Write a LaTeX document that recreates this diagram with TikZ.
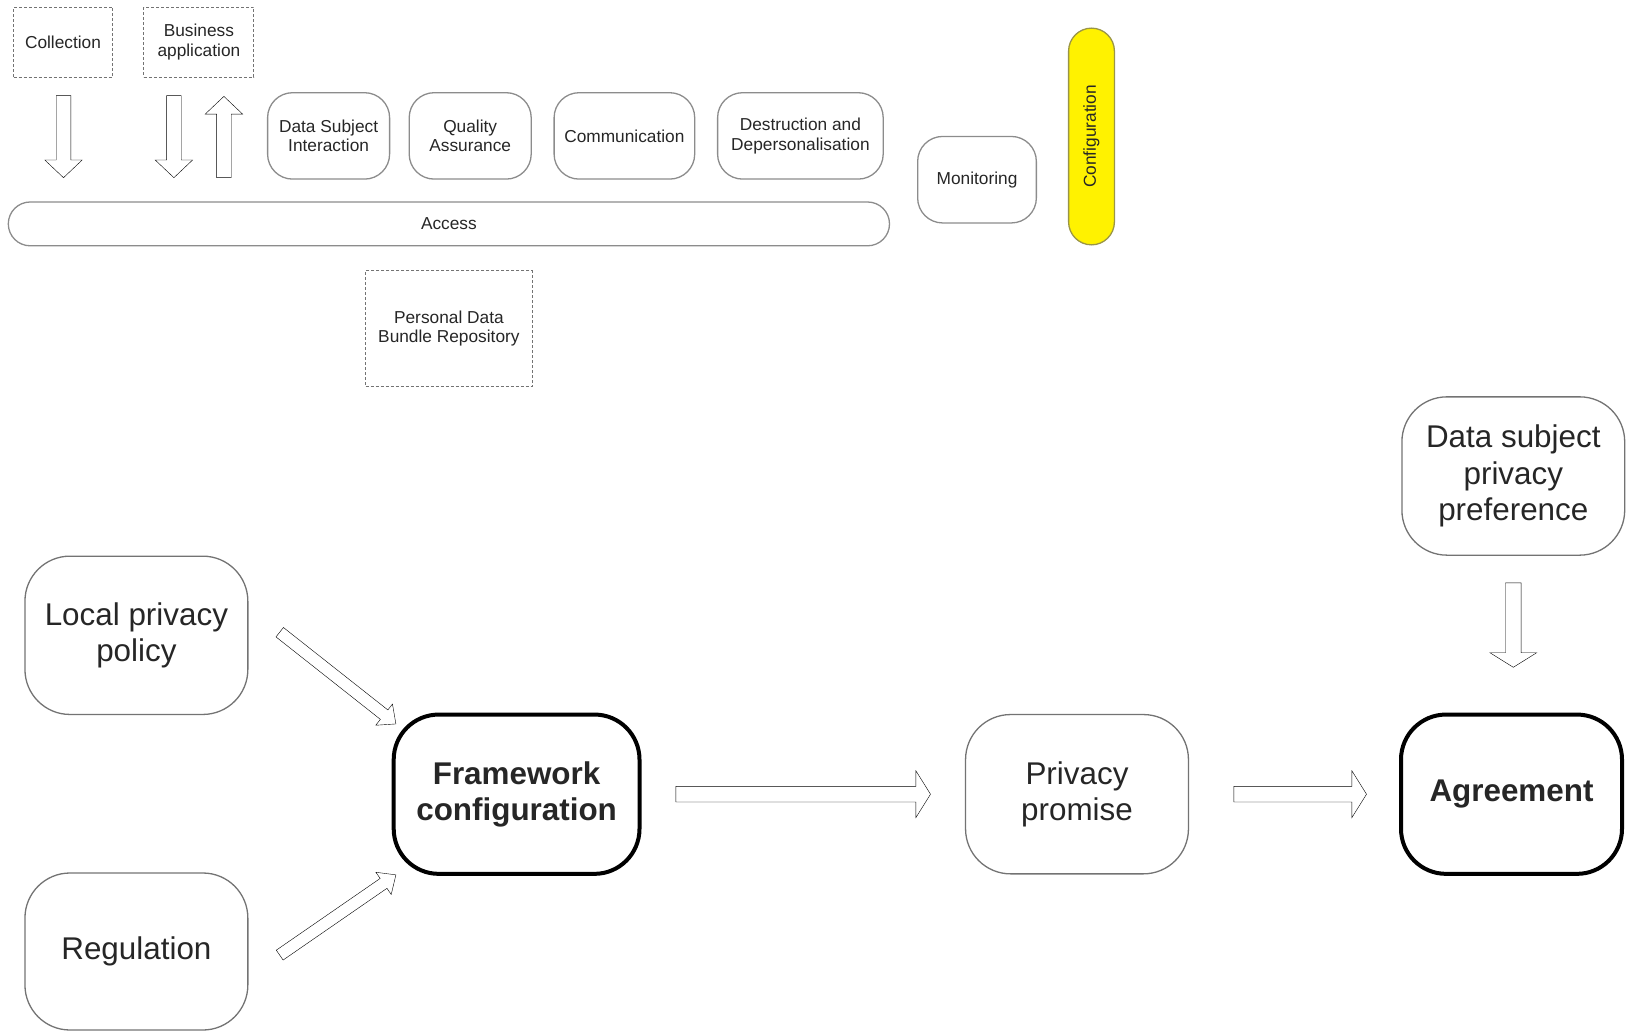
\documentclass[tikz,border=0pt]{standalone}
\usepackage{fontspec}
\setmainfont{Liberation Sans}
\usetikzlibrary{calc}

\begin{document}
\begin{tikzpicture}[x=1pt, y=-1pt,
    every node/.style={align=center, inner sep=0pt, text=black!85},
    small/.style={font=\fontsize{17.3}{19.8}\selectfont},
    large/.style={font=\fontsize{31.4}{36.5}\selectfont},
    dashbox/.style={draw=black!55, line width=1pt, dash pattern=on 3pt off 2pt, small},
    module/.style={draw=black!45, line width=1.3pt, rounded corners=25pt, small},
    stage/.style={draw=black!55, line width=1.3pt, rounded corners=45pt, large},
    keystage/.style={draw=black, line width=4pt, rounded corners=45pt,
      font=\fontsize{31.4}{36.5}\selectfont\bfseries},
    % hollow block arrow: half shaft, half head, head length
    blockarrow/.style n args={3}{draw=black!60, line width=1pt, fill=white,
      to path={let \p1=(\tikztostart), \p2=(\tikztotarget),
        \n1={atan2(\y2-\y1,\x2-\x1)}, \n2={veclen(\x2-\x1,\y2-\y1)} in
        [shift={(\p1)}, rotate=\n1]
        (0,-#1) -- (\n2-#3,-#1) -- (\n2-#3,-#2) -- (\n2,0)
        -- (\n2-#3,#2) -- (\n2-#3,#1) -- (0,#1) -- cycle}},
    thinarrow/.style={blockarrow={7.3}{18.7}{17.7}},
    widearrow/.style={blockarrow={7.8}{23.4}{14.6}},
    slantarrow/.style={blockarrow={6}{13.5}{15}}
  ]
  \useasboundingbox (0,0) rectangle (1630,1032);

  % top: modules
  \node[dashbox, minimum width=99pt, minimum height=70pt] (collection) at (63,42.2) {Collection};
  \node[dashbox, minimum width=110pt, minimum height=70pt] (business) at (198.9,42.2) {Business\\application};
  \node[module, minimum width=122pt, minimum height=86.4pt] (interaction) at (328.6,135.9) {Data Subject\\Interaction};
  \node[module, minimum width=122pt, minimum height=86.4pt] (quality) at (470.2,135.9) {Quality\\Assurance};
  \node[module, minimum width=140.6pt, minimum height=86.4pt] (communication) at (624.4,135.9) {Communication};
  \node[module, minimum width=165.6pt, minimum height=86.4pt] (destruction) at (800.4,135.9) {Destruction and\\Depersonalisation};
  \node[module, minimum width=118.7pt, minimum height=86.5pt] (monitoring) at (977,179.7) {Monitoring};
  \node[module, fill=yellow, draw=yellow!55!black, rounded corners=22.9pt, rotate=90,
    minimum width=216.7pt, minimum height=45.8pt] (configuration) at (1091.5,136.5) {Configuration};
  \node[module, rounded corners=21.9pt, minimum width=881.2pt, minimum height=43.8pt] (access) at (448.9,223.9) {Access};
  \node[dashbox, minimum width=166.6pt, minimum height=115.6pt] (repository) at (448.9,328.6) {Personal Data\\Bundle Repository};

  \draw ($(collection.south)+(0.5,18)$) to[thinarrow] ($(collection.south)+(0.5,100)$);
  \draw ($(business.south)+(-25,18)$) to[thinarrow] ($(business.south)+(-25,100)$);
  \draw ($(business.south)+(25,100)$) to[thinarrow] ($(business.south)+(25,18.7)$);

  % bottom: agreement flow
  \node[stage, minimum width=222.8pt, minimum height=158.3pt] (preference) at (1513.3,476) {Data subject\\privacy\\preference};
  \node[stage, minimum width=222.9pt, minimum height=158.3pt] (policy) at (136.4,635.3) {Local privacy\\policy};
  \node[stage, minimum width=222.9pt, minimum height=157pt] (regulation) at (136.4,951.5) {Regulation};
  \node[keystage, minimum width=245.8pt, minimum height=159.3pt] (framework) at (516.6,794.2) {Framework\\configuration};
  \node[stage, minimum width=222.9pt, minimum height=159.3pt] (promise) at (1077,794.2) {Privacy\\promise};
  \node[keystage, minimum width=221pt, minimum height=159.3pt] (agreement) at (1511.5,794.2) {Agreement};

  \draw ($(policy.east)+(31.2,-3.1)$) to[slantarrow] ($(framework.north west)+(4.2,11.4)$);
  \draw ($(regulation.east)+(31.2,3.6)$) to[slantarrow] ($(framework.south west)+(4.2,-1)$);
  \draw ($(framework.east)+(34.4,0)$) to[widearrow] ($(promise.west)+(-34.4,0)$);
  \draw ($(promise.east)+(44.7,0)$) to[widearrow] ($(agreement.west)+(-32.5,0)$);
  \draw ($(preference.south)+(0,27)$) to[widearrow] ($(preference.south)+(0,111.5)$);
\end{tikzpicture}
\end{document}
